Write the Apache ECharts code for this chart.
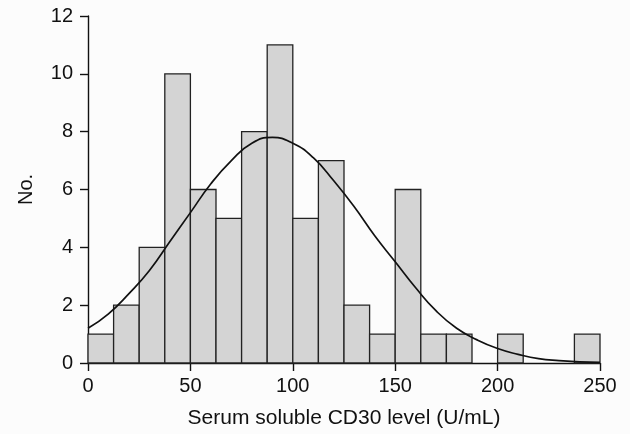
<!DOCTYPE html>
<html><head><meta charset="utf-8">
<script src="https://cdn.jsdelivr.net/npm/echarts@6/dist/echarts.min.js"></script>
<style>html,body{margin:0;padding:0;background:#fcfcfc;}#c{width:630px;height:434px;}</style>
</head><body><div id="c"></div>
<script>
// Histogram bins (U/mL) and counts
var binStarts = [0,12.5,25,37.5,50,62.5,75,87.5,100,112.5,125,137.5,150,162.5,175,187.5,200,212.5,225,237.5];
var binWidth = 12.5;
var counts = [1,2,4,10,6,5,8,11,5,7,2,1,6,1,1,0,1,0,0,1];
// Fitted curve
var curveX = [0,10,20,30,40,50,60,70,80,90,100,110,120,130,140,150,160,170,180,190,200,210,220,230,240,250];
var curveY = [1.2,1.7,2.4,3.2,4.2,5.2,6.2,7.0,7.6,7.8,7.6,7.1,6.3,5.4,4.4,3.5,2.6,1.8,1.2,0.8,0.5,0.3,0.15,0.08,0.04,0.02];
var xTicks = [0,50,100,150,200,250];
var yTicks = [0,2,4,6,8,10,12];

var barData = binStarts.map(function(s,i){return [s, s+binWidth, counts[i]];}).filter(function(d){return d[2]>0;});
var lineData = curveX.map(function(x,i){return [x, curveY[i]];});

var chart = echarts.init(document.getElementById('c'), null, {renderer:'canvas'});
var font = 'Liberation Sans, Arial, sans-serif';
chart.setOption({
  backgroundColor:'#fcfcfc',
  animation:false,
  grid:{left:88,right:30,top:16,bottom:68,containLabel:false},
  xAxis:{type:'value',min:xTicks[0],max:xTicks[xTicks.length-1],interval:50,
    name:'Serum soluble CD30 level (U/mL)',nameLocation:'middle',nameGap:45,
    nameTextStyle:{fontFamily:font,fontSize:21,color:'#111'},
    axisLine:{onZero:false,lineStyle:{color:'#111',width:1.4}},
    axisTick:{show:true,length:8,lineStyle:{color:'#111',width:1.4}},
    axisLabel:{fontFamily:font,fontSize:20,color:'#111',margin:13},
    splitLine:{show:false}},
  yAxis:{type:'value',min:yTicks[0],max:yTicks[yTicks.length-1],interval:2,
    name:'No.',nameLocation:'middle',nameGap:52,nameRotate:90,
    nameTextStyle:{fontFamily:font,fontSize:20,color:'#111'},
    axisLine:{show:true,lineStyle:{color:'#111',width:1.4}},
    axisTick:{show:true,length:8,lineStyle:{color:'#111',width:1.4}},
    axisLabel:{fontFamily:font,fontSize:20,color:'#111',margin:15},
    splitLine:{show:false}},
  series:[
    {type:'custom',
     renderItem:function(params,api){
       var p0=api.coord([api.value(0),api.value(2)]);
       var p1=api.coord([api.value(1),0]);
       return {type:'rect',shape:{x:p0[0],y:p0[1],width:p1[0]-p0[0],height:p1[1]-p0[1]},
         style:{fill:'#d4d4d4',stroke:'#222',lineWidth:1.3}};
     },
     encode:{x:[0,1],y:2},
     data:barData, z:2},
    {type:'line',data:lineData,smooth:true,showSymbol:false,
     lineStyle:{color:'#111',width:1.7},z:3}
  ]
});
</script></body></html>
